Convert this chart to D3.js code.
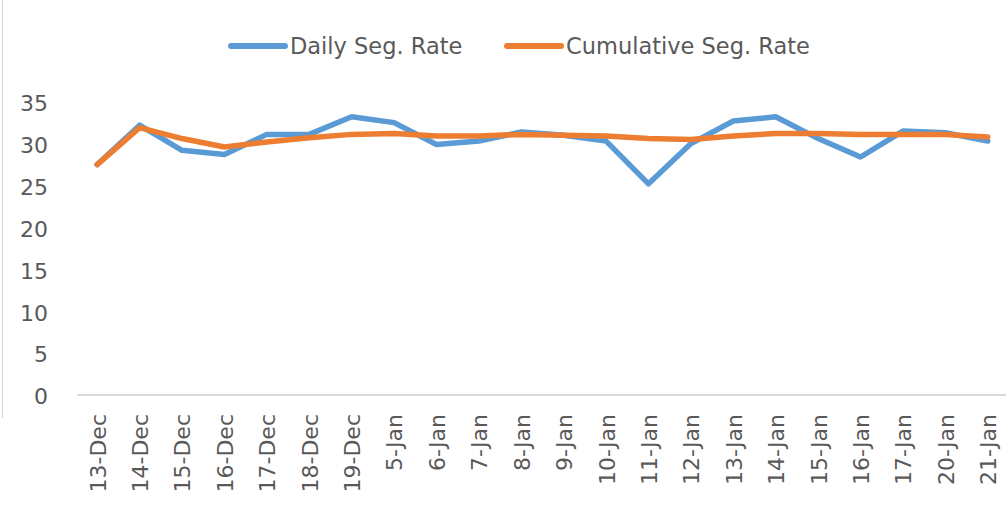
<!DOCTYPE html>
<html>
<head>
<meta charset="utf-8">
<script src="https://cdn.jsdelivr.net/npm/d3@7"></script>
<style>
  html, body { margin: 0; padding: 0; background: #fff; }
  svg { display: block; font-family: "DejaVu Sans", sans-serif; }
</style>
</head>
<body>
<svg id="chart" width="1006" height="512"></svg>
<script>
const categories = ["13-Dec","14-Dec","15-Dec","16-Dec","17-Dec","18-Dec","19-Dec","5-Jan","6-Jan","7-Jan","8-Jan","9-Jan","10-Jan","11-Jan","12-Jan","13-Jan","14-Jan","15-Jan","16-Jan","17-Jan","20-Jan","21-Jan"];
const dailyRate = [27.5,32.2,29.2,28.7,31.1,31.1,33.2,32.5,29.9,30.3,31.4,31.0,30.3,25.2,30.0,32.7,33.2,30.6,28.4,31.5,31.3,30.3];
const cumulativeRate = [27.5,31.9,30.6,29.6,30.2,30.7,31.1,31.2,30.9,30.9,31.1,31.0,30.9,30.6,30.5,30.9,31.2,31.2,31.1,31.1,31.1,30.8];
const yTicks = [0,5,10,15,20,25,30,35];
const seriesNames = ["Daily Seg. Rate","Cumulative Seg. Rate"];
const seriesColors = ["#5B9BD5","#ED7D31"];

const svg = d3.select("#chart");
const textColor = "#595959";

const x = d3.scalePoint().domain(categories).range([76, 1009]).padding(0.5);
const y = d3.scaleLinear().domain([0, 35]).range([395, 101.7]);

// left border line
svg.append("line").attr("x1", 2.5).attr("x2", 2.5).attr("y1", 0).attr("y2", 418)
  .attr("stroke", "#d9d9d9").attr("stroke-width", 1);

// y axis labels
const yAxis = svg.append("g").attr("transform", "translate(50,0)")
  .call(d3.axisLeft(y).tickValues(yTicks).tickSize(0).tickPadding(2).tickFormat(d3.format("d")));
yAxis.select(".domain").remove();
yAxis.selectAll("text").attr("fill", textColor).style("font-size", "22px")
  .style("font-family", "'DejaVu Sans', sans-serif").attr("dy", "0.4em");

// x axis baseline
svg.append("line").attr("x1", 77).attr("x2", 1006).attr("y1", y(0)).attr("y2", y(0))
  .attr("stroke", "#d9d9d9").attr("stroke-width", 2);

// x axis labels
const xAxis = svg.append("g").attr("transform", `translate(0,${y(0)})`)
  .call(d3.axisBottom(x).tickSize(0));
xAxis.select(".domain").remove();
xAxis.selectAll("text")
  .attr("fill", textColor)
  .style("font-size", "22px")
  .style("font-family", "'DejaVu Sans', sans-serif")
  .attr("text-anchor", "end")
  .attr("transform", "rotate(-90)")
  .attr("x", -19)
  .attr("y", 0)
  .attr("dy", "0.36em");

// lines
const line = d3.line().x((d, i) => x(categories[i])).y(d => y(d));
[dailyRate, cumulativeRate].forEach((s, k) => {
  svg.append("path").datum(s)
    .attr("d", line)
    .attr("fill", "none")
    .attr("stroke", seriesColors[k])
    .attr("stroke-width", 5.5)
    .attr("stroke-linejoin", "round")
    .attr("stroke-linecap", "round");
});

// legend
const legendItems = [{x: 231}, {x: 507}];
seriesNames.forEach((name, k) => {
  const g = svg.append("g").attr("transform", `translate(${legendItems[k].x},46)`);
  g.append("line").attr("x1", 0).attr("x2", 54).attr("y1", 0).attr("y2", 0)
    .attr("stroke", seriesColors[k]).attr("stroke-width", 6).attr("stroke-linecap", "round");
  g.append("text").attr("x", 59).attr("y", 0).attr("dy", "0.36em")
    .attr("fill", textColor).style("font-size", "22.5px").text(name);
});
</script>
</body>
</html>
